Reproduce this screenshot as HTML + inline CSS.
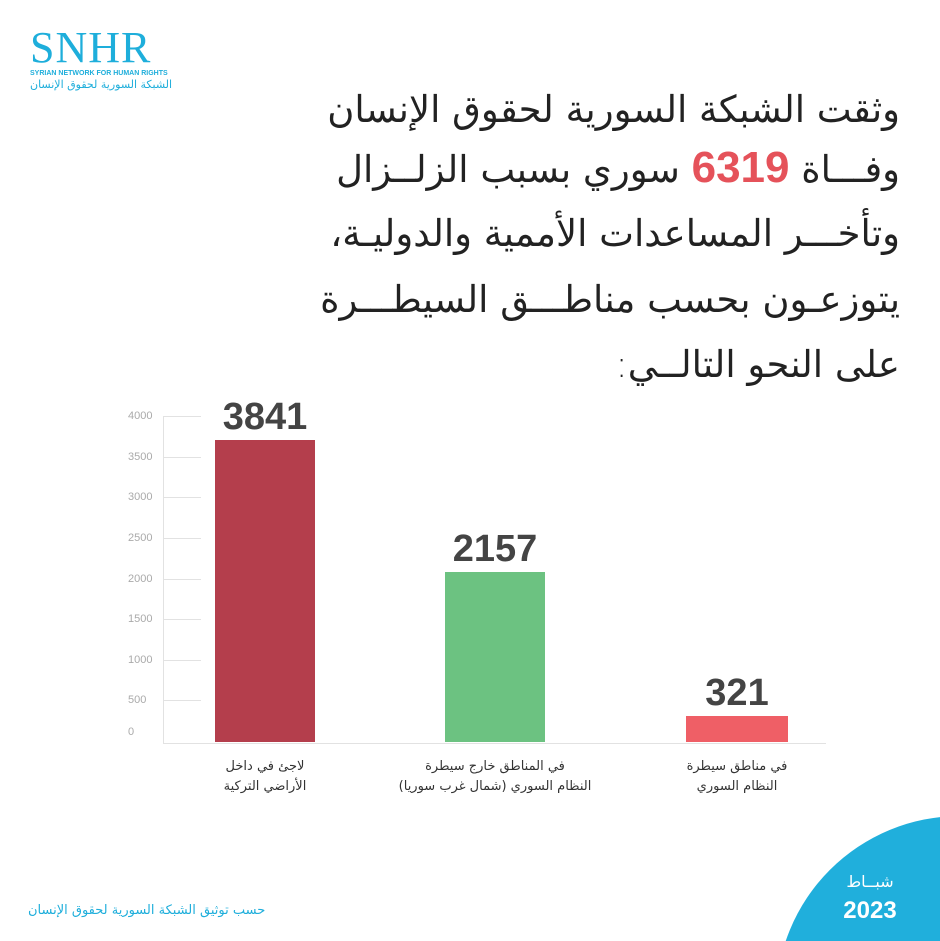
<!DOCTYPE html>
<html><head><meta charset="utf-8"><style>
html,body{margin:0;padding:0;width:940px;height:941px;overflow:hidden;}
#w{position:relative;width:940px;height:941px;overflow:hidden;background:#fff;font-family:"DejaVu Sans","Liberation Sans",sans-serif;}
.a{position:absolute;white-space:nowrap;}
.t{right:40px;direction:rtl;font-size:37px;color:#222;font-weight:300;line-height:40px;}
.g{position:absolute;left:163px;width:38px;height:1px;background:#e2e2e2;}
.yl{position:absolute;left:128px;font-size:11px;color:#aaa;font-family:"Liberation Sans",sans-serif;}
.v{position:absolute;font-family:"Liberation Sans",sans-serif;font-weight:bold;font-size:38px;color:#444;text-align:center;width:120px;}
.cl{position:absolute;direction:rtl;text-align:center;font-size:13px;color:#333;line-height:20px;width:200px;}
</style></head><body><div id="w">
<div class="a" style="left:30px;top:26px;font-family:'Liberation Serif',serif;font-size:44px;color:#1eaedb;letter-spacing:1px;line-height:44px;">SNHR</div>
<div class="a" style="left:30px;top:70px;font-size:7px;color:#1eaedb;font-weight:bold;font-family:'Liberation Sans',sans-serif;">SYRIAN NETWORK FOR HUMAN RIGHTS</div>
<div class="a" style="left:30px;top:78px;font-size:11px;color:#1eaedb;">الشبكة السورية لحقوق الإنسان</div>

<div class="a t" style="top:90px;">وثقت الشبكة السورية لحقوق الإنسان</div>
<div class="a t" style="top:148px;">وفـــاة <span style="color:#e5525a;font-weight:bold;font-family:'Liberation Sans',sans-serif;font-size:44px;">6319</span> سوري بسبب الزلــزال</div>
<div class="a t" style="top:214px;">وتأخـــر المساعدات الأممية والدوليـة،</div>
<div class="a t" style="top:280px;">يتوزعـون بحسب مناطـــق السيطـــرة</div>
<div class="a t" style="top:345px;">على النحو التالــي:</div>

<div style="position:absolute;left:163px;top:416px;width:1px;height:327px;background:#e2e2e2"></div>
<div style="position:absolute;left:163px;top:743px;width:663px;height:1px;background:#e2e2e2"></div>
<div class="g" style="top:416px"></div><div class="g" style="top:457px"></div><div class="g" style="top:497px"></div><div class="g" style="top:538px"></div><div class="g" style="top:579px"></div><div class="g" style="top:619px"></div><div class="g" style="top:660px"></div><div class="g" style="top:700px"></div>
<div class="yl" style="top:410px">4000</div><div class="yl" style="top:451px">3500</div><div class="yl" style="top:491px">3000</div><div class="yl" style="top:532px">2500</div><div class="yl" style="top:573px">2000</div><div class="yl" style="top:613px">1500</div><div class="yl" style="top:654px">1000</div><div class="yl" style="top:694px">500</div><div class="yl" style="top:726px">0</div>

<div style="position:absolute;left:215px;top:440px;width:100px;height:302px;background:#b43e4c"></div>
<div style="position:absolute;left:445px;top:572px;width:100px;height:170px;background:#6cc281"></div>
<div style="position:absolute;left:686px;top:716px;width:102px;height:26px;background:#ef5f66"></div>
<div class="v" style="left:205px;top:396px">3841</div>
<div class="v" style="left:435px;top:528px">2157</div>
<div class="v" style="left:677px;top:672px">321</div>
<div class="cl" style="left:165px;top:757px">لاجئ في داخل<br>الأراضي التركية</div>
<div class="cl" style="left:395px;top:757px">في المناطق خارج سيطرة<br>النظام السوري (شمال غرب سوريا)</div>
<div class="cl" style="left:637px;top:757px">في مناطق سيطرة<br>النظام السوري</div>

<div class="a" style="left:28px;top:903px;font-size:13px;color:#1eaedb;">حسب توثيق الشبكة السورية لحقوق الإنسان</div>
<svg style="position:absolute;left:776px;top:806px" width="164" height="135"><circle cx="184" cy="194" r="184" fill="#20afdc"/></svg>
<div class="a" style="left:830px;top:872px;width:80px;text-align:center;color:#fff;font-size:16px;direction:rtl;">شبــاط</div>
<div class="a" style="left:830px;top:897px;width:80px;text-align:center;color:#fff;font-size:24px;font-weight:bold;font-family:'Liberation Sans',sans-serif;">2023</div>
</div></body></html>
